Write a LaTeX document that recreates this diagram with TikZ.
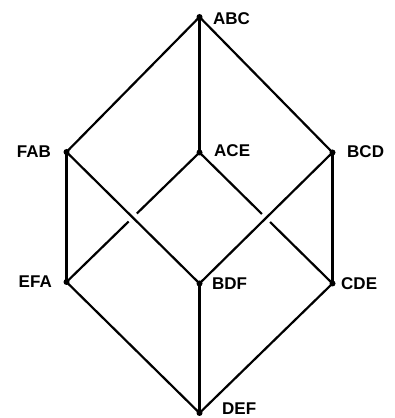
\documentclass[tikz,border=0pt]{standalone}
\usepackage{fontspec}
\setmainfont{Liberation Sans}
\begin{document}
\begin{tikzpicture}[x=1pt,y=1pt,
  vertex/.style={circle,fill=black,inner sep=0pt,minimum size=6pt},
  lbl/.style={inner sep=0pt,font=\fontsize{17}{17}\selectfont\bfseries},
  edge/.style={line width=2.2pt},
  gapmask/.style={white,line width=11pt,shorten <=83pt,shorten >=83pt}]
\useasboundingbox (0,0) rectangle (394,418);

% lattice vertices
\node[vertex] (ABC) at (199.5,401) {};
\node[vertex] (FAB) at (66.5,266) {};
\node[vertex] (ACE) at (199.5,265.5) {};
\node[vertex] (BCD) at (332.5,265.5) {};
\node[vertex] (EFA) at (66.5,136) {};
\node[vertex] (BDF) at (199.5,134.5) {};
\node[vertex] (CDE) at (332.5,134.5) {};
\node[vertex] (DEF) at (199.5,5) {};

% vertex labels
\node[lbl,anchor=west] (tABC) at (213,399) {ABC};
\node[lbl,anchor=east] (tFAB) at (51,266) {FAB};
\node[lbl,anchor=west] (tACE) at (214,267.5) {ACE};
\node[lbl,anchor=west] (tBCD) at (347,266.5) {BCD};
\node[lbl,anchor=east] (tEFA) at (52,136.5) {EFA};
\node[lbl,anchor=west] (tBDF) at (212,134.5) {BDF};
\node[lbl,anchor=west] (tCDE) at (341,134.5) {CDE};
\node[lbl,anchor=west] (tDEF) at (222,9) {DEF};

% edges passing behind
\draw[edge] (ACE.center) -- (EFA.center);
\draw[edge] (ACE.center) -- (CDE.center);
\draw[gapmask] (FAB.center) -- (BDF.center);
\draw[gapmask] (BCD.center) -- (BDF.center);

% remaining edges
\draw[edge] (ABC.center) -- (FAB.center);
\draw[edge] (ABC.center) -- (ACE.center);
\draw[edge] (ABC.center) -- (BCD.center);
\draw[edge] (FAB.center) -- (EFA.center);
\draw[edge] (FAB.center) -- (BDF.center);
\draw[edge] (BCD.center) -- (BDF.center);
\draw[edge] (BCD.center) -- (CDE.center);
\draw[edge] (EFA.center) -- (DEF.center);
\draw[edge] (BDF.center) -- (DEF.center);
\draw[edge] (CDE.center) -- (DEF.center);
\end{tikzpicture}
\end{document}
